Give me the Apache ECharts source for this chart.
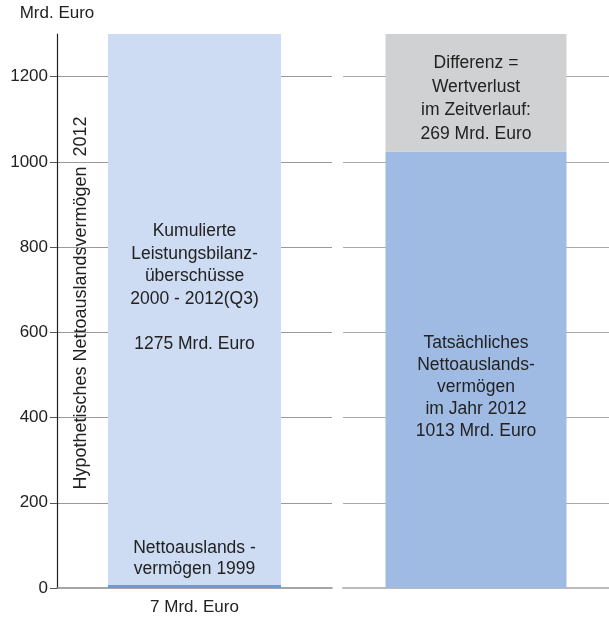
<!DOCTYPE html>
<html>
<head>
<meta charset="utf-8">
<script src="https://cdn.jsdelivr.net/npm/echarts@6/dist/echarts.min.js"></script>
<style>
html,body{margin:0;padding:0;background:#fff;}
#chart{width:609px;height:619px;}
</style>
</head>
<body>
<div id="chart"></div>
<script>
// values as drawn in the picture (Mrd. Euro)
var yTicks = [0, 200, 400, 600, 800, 1000, 1200]
var leftCats = ['7 Mrd. Euro']
var rightCats = ['']
var base1999 = [7]
var kumuliert = [1293]
var tatsaechlich = [1024]
var differenz = [276]

var font = 'Liberation Sans, Arial, sans-serif'
var txt = '#222'

var chart = echarts.init(document.getElementById('chart'))
chart.setOption({
  animation: false,
  textStyle: {fontFamily: font},
  grid: [
    {left: 57, top: 34, bottom: 31, width: 275},
    {left: 343, top: 34, bottom: 31, width: 271}
  ],
  xAxis: [
    {
      type: 'category', gridIndex: 0, data: leftCats,
      axisLine: {lineStyle: {color: '#888', width: 1.5}},
      axisTick: {show: false},
      axisLabel: {color: txt, fontSize: 17, margin: 11, fontFamily: font}
    },
    {
      type: 'category', gridIndex: 1, data: rightCats,
      axisLine: {lineStyle: {color: '#bbb', width: 2}},
      axisTick: {show: false},
      axisLabel: {show: false}
    }
  ],
  yAxis: [
    {
      type: 'value', gridIndex: 0, min: 0, max: 1300,
      name: 'Mrd. Euro', nameLocation: 'end', nameGap: 12,
      nameTextStyle: {color: txt, fontSize: 17, align: 'center', fontFamily: font},
      axisLine: {show: true, lineStyle: {color: '#222', width: 1.2}},
      axisTick: {show: true, length: 7, customValues: yTicks, lineStyle: {color: '#555'}},
      axisLabel: {
        color: txt, fontSize: 17, margin: 9, fontFamily: font, customValues: yTicks,
        formatter: function (v) { return String(v) }
      },
      splitLine: {show: true, showMinLine: false, showMaxLine: true, lineStyle: {color: '#999', width: 1}}
    },
    {
      type: 'value', gridIndex: 1, min: 0, max: 1300,
      axisLine: {show: false},
      axisTick: {show: false, customValues: yTicks},
      axisLabel: {show: false, customValues: yTicks},
      splitLine: {show: true, showMinLine: false, showMaxLine: true, lineStyle: {color: '#aaa', width: 1}}
    }
  ],
  series: [
    {
      type: 'bar', stack: 'a', xAxisIndex: 0, yAxisIndex: 0, barWidth: 173,
      data: base1999, itemStyle: {color: '#6a9bd6'},
      label: {
        show: true, position: 'top', distance: 5, color: txt, fontSize: 17.5, lineHeight: 21,
        fontFamily: font,
        formatter: 'Nettoauslands -\nvermögen 1999'
      }
    },
    {
      type: 'bar', stack: 'a', xAxisIndex: 0, yAxisIndex: 0, barWidth: 173,
      data: kumuliert, itemStyle: {color: '#cddbf3'},
      label: {
        show: true, position: 'inside', offset: [0, -22], color: txt, fontSize: 17.5, lineHeight: 22.5,
        fontFamily: font,
        formatter: 'Kumulierte\nLeistungsbilanz-\nüberschüsse\n2000 - 2012(Q3)\n\n1275 Mrd. Euro'
      }
    },
    {
      type: 'bar', stack: 'b', xAxisIndex: 1, yAxisIndex: 1, barWidth: 181,
      data: tatsaechlich, itemStyle: {color: '#a0bbe3'},
      label: {
        show: true, position: 'inside', offset: [0, 17], color: txt, fontSize: 17.5, lineHeight: 22,
        fontFamily: font,
        formatter: 'Tatsächliches\nNettoauslands-\nvermögen\nim Jahr 2012\n1013 Mrd. Euro'
      }
    },
    {
      type: 'bar', stack: 'b', xAxisIndex: 1, yAxisIndex: 1, barWidth: 181,
      data: differenz, itemStyle: {color: '#d0d1d2'},
      label: {
        show: true, position: 'inside', offset: [0, 6], color: txt, fontSize: 17.5, lineHeight: 23.5,
        fontFamily: font,
        formatter: 'Differenz =\nWertverlust\nim Zeitverlauf:\n269 Mrd. Euro'
      }
    }
  ],
  graphic: [
    {
      type: 'text', x: 81, y: 303, rotation: Math.PI / 2,
      style: {
        text: 'Hypothetisches Nettoauslandsvermögen  2012',
        fill: txt, font: '18px ' + font, align: 'center', verticalAlign: 'middle'
      }
    }
  ]
})
</script>
</body>
</html>
